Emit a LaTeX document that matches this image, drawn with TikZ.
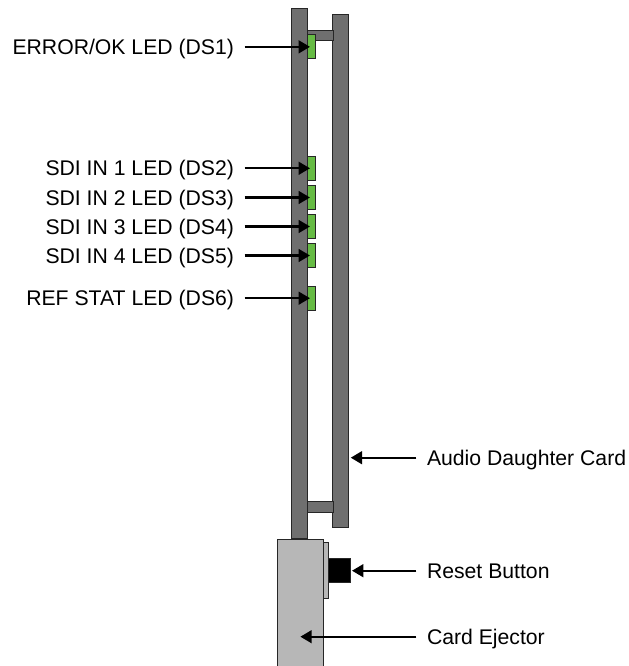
\documentclass[tikz,border=0pt]{standalone}
\usepackage{xcolor}
\usepackage{fontspec}
\setmainfont{Liberation Sans}
\usetikzlibrary{arrows.meta,positioning}

\definecolor{boardgray}{HTML}{6F6F6F}
\definecolor{ejectgray}{HTML}{B7B7B7}
\definecolor{ledgreen}{HTML}{66BB44}

\begin{document}
\begin{tikzpicture}[x=0.75pt, y=-0.75pt, node distance=0pt,
  part/.style={draw=black!85, line width=0.75pt, rectangle, inner sep=0pt, outer sep=0pt},
  board/.style={part, fill=boardgray},
  led/.style={part, fill=ledgreen, minimum width=5.8pt, minimum height=18pt},
  lbl/.style={inner sep=0pt, outer sep=0pt, font=\fontsize{15.9}{18}\selectfont, text height=14.4pt, text depth=3pt},
  ptr/.style={-{Triangle[length=8.5pt, width=9.5pt]}, line width=1.8pt}]
  \useasboundingbox (0,0) rectangle (628,666);

  % Card parts
  \node (main) [board, minimum width=11.8pt, minimum height=397pt] at (299.85,273.5) {};
  \node (daughter) [board, minimum width=11.8pt, minimum height=385pt] at (340.85,271) {};
  \node (strutA) [board, minimum width=18.8pt, minimum height=8pt] at (320.5,35.35) {};
  \node (strutB) [board, minimum width=18.8pt, minimum height=8pt] at (320.5,506.7) {};
  \node (plate) [part, fill=ejectgray, minimum width=3.5pt, minimum height=42.5pt] at (325.7,570.35) {};
  \node (eject) [part, fill=ejectgray, minimum width=35pt, minimum height=100pt] at (300.35,605.8) {};
  \node (button) [part, fill=black, minimum width=16.5pt, minimum height=18pt] at (339,570.7) {};

  % LEDs
  \node (ledA) [led] at (311.85,46.85) {};
  \node (ledB) [led] at (311.85,168.3) {};
  \node (ledC) [led] at (311.85,197.5) {};
  \node (ledD) [led] at (311.85,226.5) {};
  \node (ledE) [led] at (311.85,255.5) {};
  \node (ledF) [led] at (311.85,298.2) {};

  % Labels
  \node (lblA) [lbl, anchor=east] at (234,46.85) {ERROR/OK LED (DS1)};
  \node (lblB) [lbl, anchor=east] at (234,168.3) {SDI IN 1 LED (DS2)};
  \node (lblC) [lbl, anchor=east] at (234,197.5) {SDI IN 2 LED (DS3)};
  \node (lblD) [lbl, anchor=east] at (234,226.5) {SDI IN 3 LED (DS4)};
  \node (lblE) [lbl, anchor=east] at (234,255.5) {SDI IN 4 LED (DS5)};
  \node (lblF) [lbl, anchor=east] at (234,298.2) {REF STAT LED (DS6)};
  \node (lblAudio) [lbl, anchor=west] at (427,457.7) {Audio Daughter Card};
  \node (lblReset) [lbl, anchor=west] at (427,570.7) {Reset Button};
  \node (lblEject) [lbl, anchor=west] at (427,636.7) {Card Ejector};

  % Arrows
  \foreach \n in {A,B,C,D,E,F}
    \draw[ptr, shorten <=8pt, shorten >=-1.5pt] (lbl\n.east) -- (led\n.west);
  \draw[ptr, shorten <=8pt, shorten >=1.5pt] (lblAudio.west) -- (lblAudio.west -| daughter.east);
  \draw[ptr, shorten <=8pt, shorten >=1.5pt] (lblReset.west) -- (button.east);
  \draw[ptr, shorten <=8pt] (lblEject.west) -- (lblEject.west -| eject.center);
\end{tikzpicture}
\end{document}
